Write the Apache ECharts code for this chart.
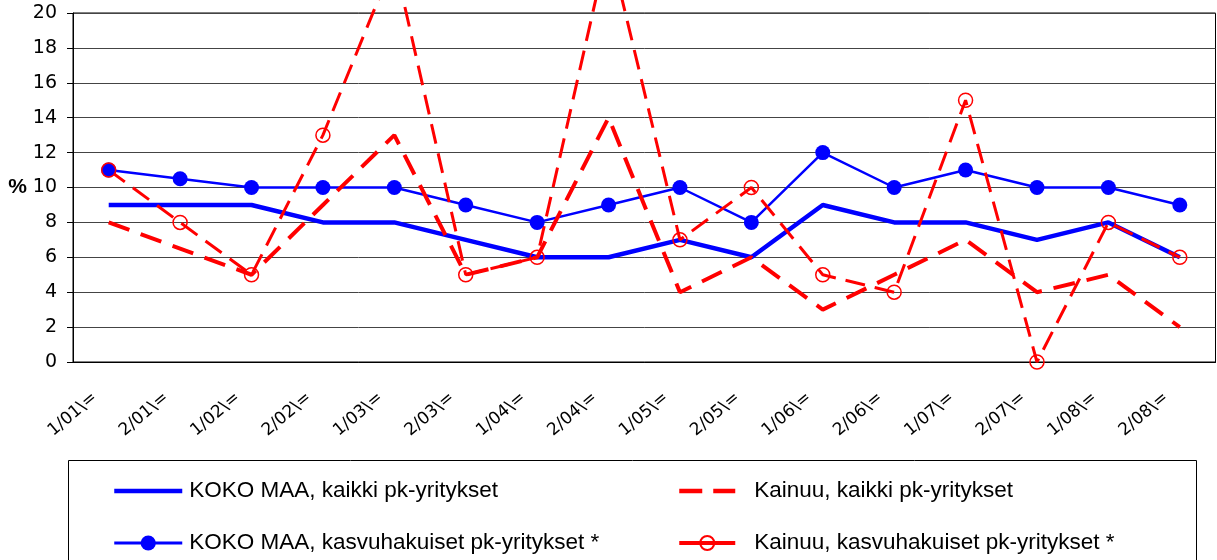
<!DOCTYPE html>
<html>
<head>
<meta charset="utf-8">
<script src="https://cdn.jsdelivr.net/npm/echarts@6/dist/echarts.min.js"></script>
<style>
  html, body { margin: 0; padding: 0; background: #fff; }
  #chart { width: 1217px; height: 560px; }
</style>
</head>
<body>
<div id="chart"></div>
<script>
// periods
const categories = ['1/01\\=', '2/01\\=', '1/02\\=', '2/02\\=', '1/03\\=', '2/03\\=', '1/04\\=', '2/04\\=',
  '1/05\\=', '2/05\\=', '1/06\\=', '2/06\\=', '1/07\\=', '2/07\\=', '1/08\\=', '2/08\\='];
const kokoMaaKaikki = [9, 9, 9, 8, 8, 7, 6, 6, 7, 6, 9, 8, 8, 7, 8, 6];
const kokoMaaKasvu = [11, 10.5, 10, 10, 10, 9, 8, 9, 10, 8, 12, 10, 11, 10, 10, 9];
const kainuuKaikki = [8, 6.5, 5, 9, 13, 5, 6, 14, 4, 6, 3, 5, 7, 4, 5, 2];
const kainuuKasvu = [11, 8, 5, 13, 23, 5, 6, 24, 7, 10, 5, 4, 15, 0, 8, 6];
const yTicks = { min: 0, max: 20, interval: 2 };

const FONT = '"Liberation Sans", Arial, sans-serif';
const WIDE = '"DejaVu Sans", sans-serif';
const chart = echarts.init(document.getElementById('chart'));

chart.setOption({
  animation: false,
  grid: {
    left: 73, top: 13, right: 1.5, height: 349,
    show: true, borderColor: '#000', borderWidth: 1
  },
  xAxis: {
    type: 'category',
    data: categories,
    boundaryGap: true,
    axisLine: { lineStyle: { color: '#000', width: 1 } },
    axisTick: { show: false },
    axisLabel: {
      rotate: 40,
      margin: 22,
      padding: [0, 18, 0, 0],
      interval: 0,
      color: '#000',
      fontFamily: WIDE,
      fontSize: 17
    }
  },
  yAxis: {
    type: 'value',
    min: yTicks.min,
    max: yTicks.max,
    interval: yTicks.interval,
    name: '%',
    nameLocation: 'middle',
    nameRotate: 0,
    nameGap: 41,
    nameTextStyle: { color: '#000', fontFamily: FONT, fontSize: 21, fontWeight: 'bold', align: 'right' },
    axisLine: { show: true, lineStyle: { color: '#000', width: 1 } },
    axisTick: { show: true, inside: false, length: 6, lineStyle: { color: '#000' } },
    axisLabel: { margin: 16, color: '#000', fontFamily: WIDE, fontSize: 19 },
    splitLine: { lineStyle: { color: '#444', width: 1 } }
  },
  legend: [
    {
      data: [
        { name: 'KOKO MAA, kaikki pk-yritykset', itemStyle: { opacity: 0 }, lineStyle: { width: 4.5 } },
        { name: 'KOKO MAA, kasvuhakuiset pk-yritykset *', lineStyle: { width: 3 } }
      ],
      orient: 'vertical',
      left: 107, top: 474,
      itemWidth: 68, itemHeight: 19, itemGap: 28,
      textStyle: { color: '#000', fontFamily: FONT, fontSize: 22.5, lineHeight: 24, padding: [0, 0, 0, 2] }
    },
    {
      data: [
        { name: 'Kainuu, kaikki pk-yritykset', itemStyle: { opacity: 0 }, lineStyle: { width: 4.5, type: [23, 11] } },
        { name: 'Kainuu, kasvuhakuiset pk-yritykset *', lineStyle: { width: 4, type: 'solid' } }
      ],
      orient: 'vertical',
      left: 672, top: 474,
      itemWidth: 56, itemHeight: 17.5, itemGap: 28,
      textStyle: { color: '#000', fontFamily: FONT, fontSize: 22.5, lineHeight: 24, padding: [0, 0, 0, 14] }
    }
  ],
  graphic: [
    {
      type: 'rect',
      shape: { x: 68.5, y: 460.5, width: 1128, height: 120 },
      style: { fill: 'none', stroke: '#000', lineWidth: 1 },
      silent: true
    }
  ],
  series: [
    {
      name: 'KOKO MAA, kaikki pk-yritykset',
      type: 'line',
      data: kokoMaaKaikki,
      symbol: 'none',
      lineStyle: { color: '#0000ff', width: 4.5 },
      itemStyle: { color: '#0000ff' }
    },
    {
      name: 'KOKO MAA, kasvuhakuiset pk-yritykset *',
      type: 'line',
      data: kokoMaaKasvu,
      symbol: 'circle',
      symbolSize: 15,
      lineStyle: { color: '#0000ff', width: 2.5 },
      itemStyle: { color: '#0000ff' }
    },
    {
      name: 'Kainuu, kaikki pk-yritykset',
      type: 'line',
      data: kainuuKaikki,
      symbol: 'none',
      lineStyle: { color: '#ff0000', width: 4, type: [22, 12] },
      itemStyle: { color: '#ff0000' }
    },
    {
      name: 'Kainuu, kasvuhakuiset pk-yritykset *',
      type: 'line',
      data: kainuuKasvu,
      clip: false,
      symbol: 'circle',
      symbolSize: 14,
      lineStyle: { color: '#ff0000', width: 3, type: [20, 10] },
      itemStyle: { color: 'rgba(255,255,255,0)', borderColor: '#ff0000', borderWidth: 1.5 }
    }
  ]
});
</script>
</body>
</html>
